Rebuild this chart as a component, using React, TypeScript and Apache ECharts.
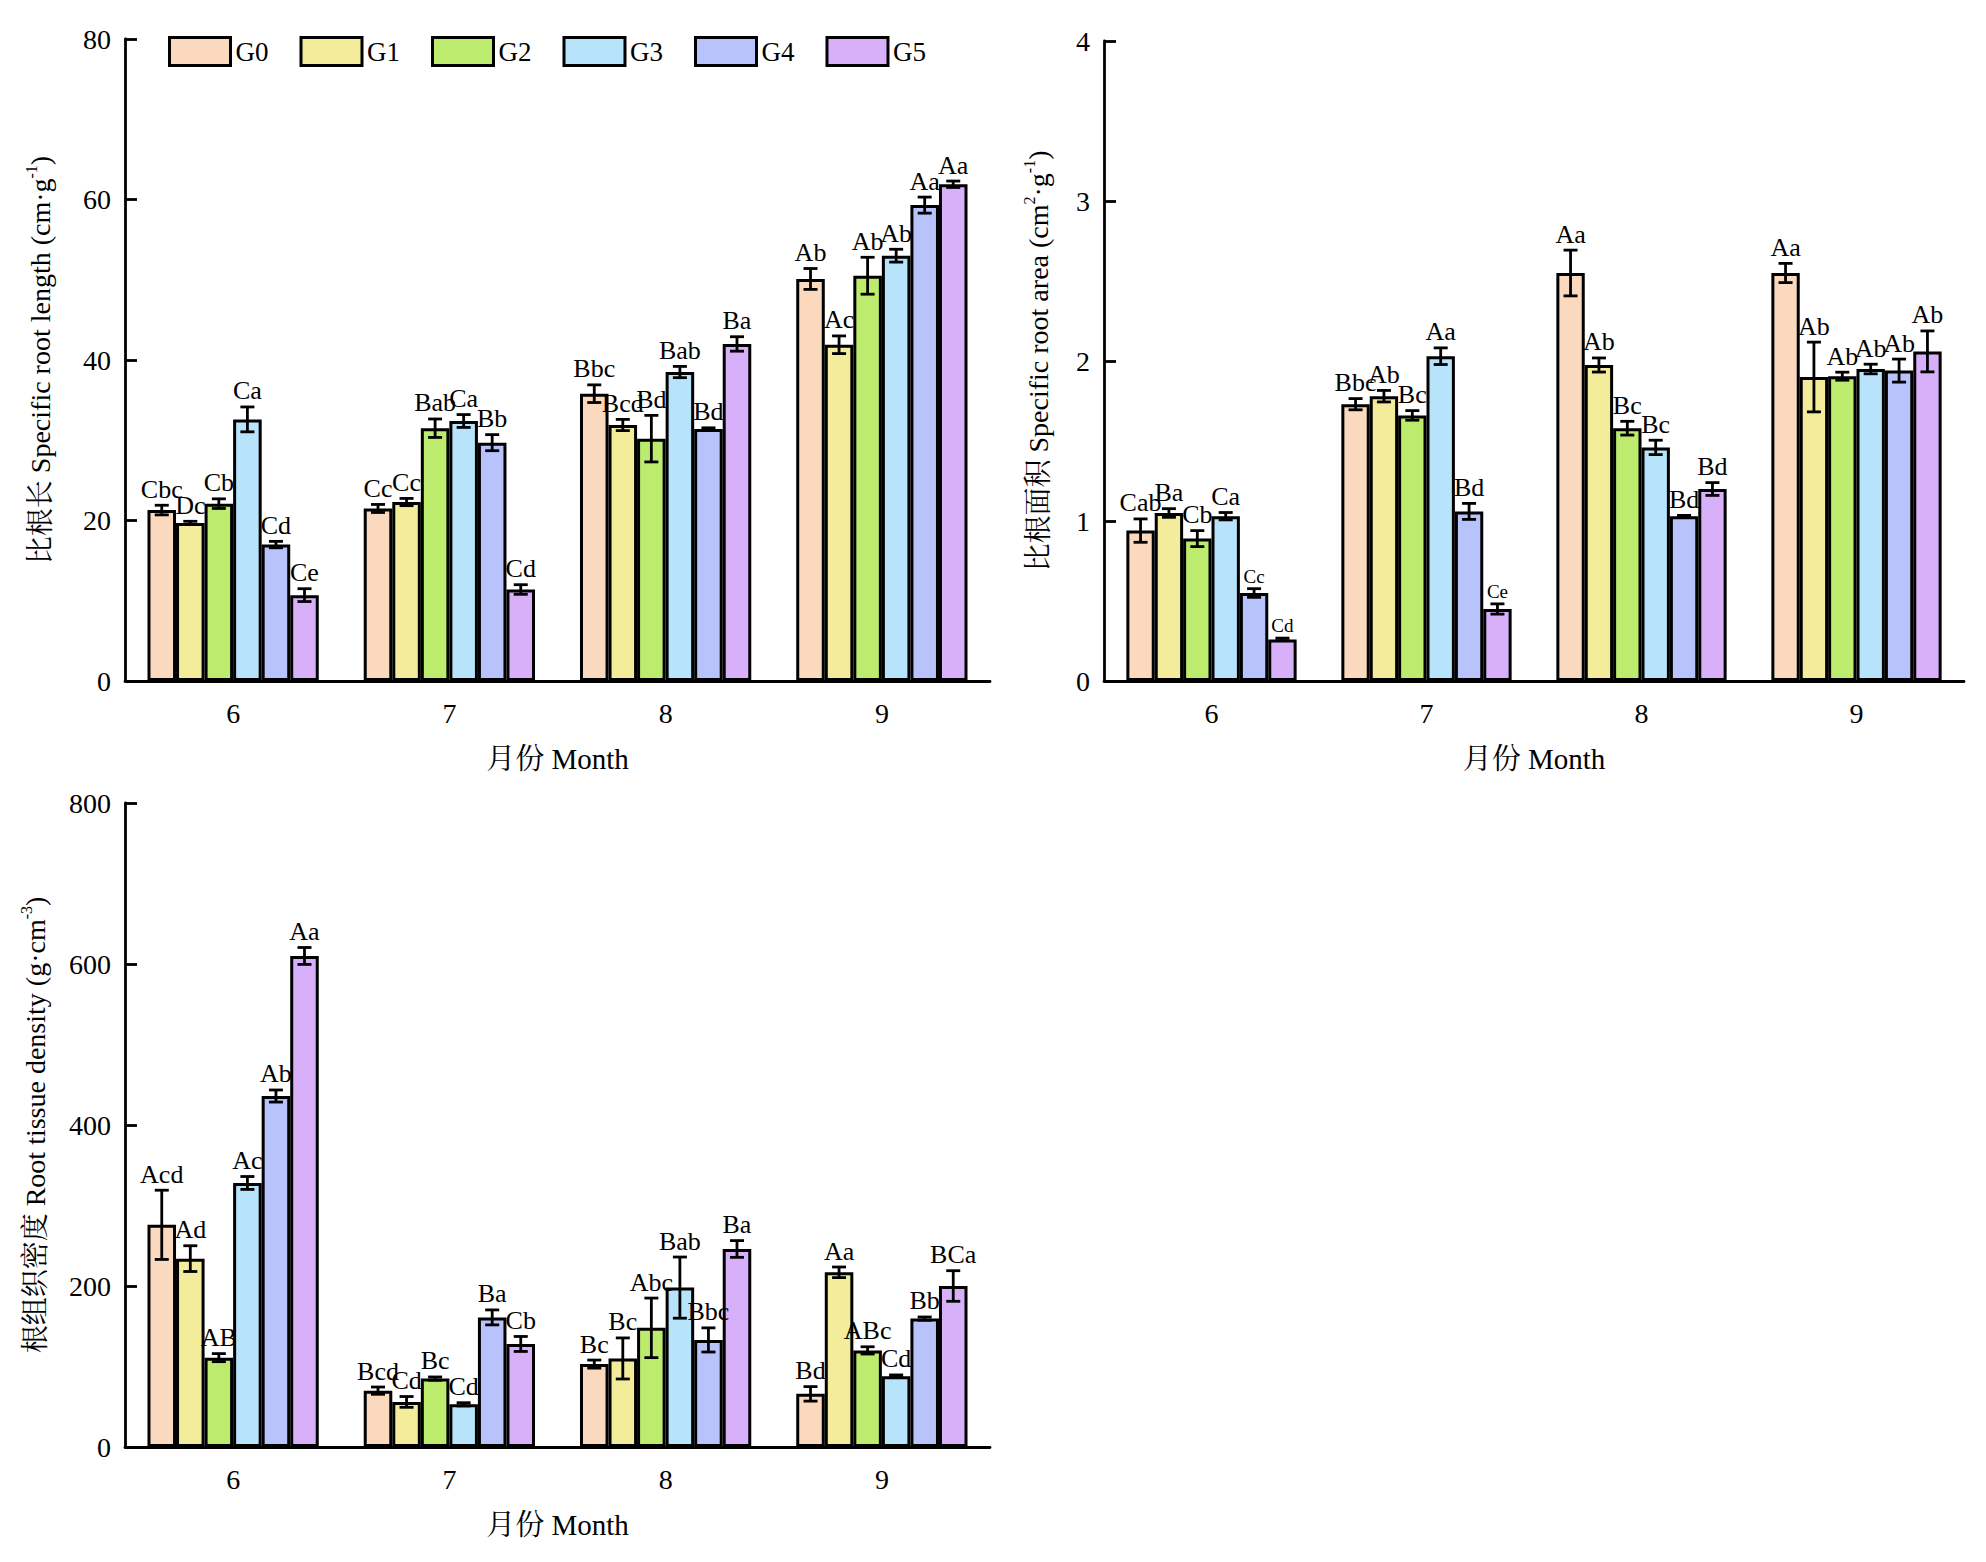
import React, { useEffect, useRef } from "react";
import * as echarts from "echarts";

const months = ["6", "7", "8", "9"];
const groups = ["G0", "G1", "G2", "G3", "G4", "G5"];
const colors = ["#FAD9BE", "#F2EC9B", "#BDEB6E", "#B7E3FB", "#B8C3FB", "#D8B0FA"];

// Specific root length (cm·g-1)
const srlMean = [
  [21.3, 21.5, 35.8, 50.1],
  [19.7, 22.3, 31.9, 41.9],
  [22.1, 31.5, 30.2, 50.5],
  [32.6, 32.4, 38.5, 53.0],
  [17.0, 29.7, 31.4, 59.3],
  [10.7, 11.4, 42.0, 61.9],
];
const srlErr = [
  [0.6, 0.5, 1.1, 1.3],
  [0.2, 0.45, 0.7, 1.1],
  [0.6, 1.15, 2.9, 2.3],
  [1.55, 0.8, 0.7, 0.8],
  [0.4, 1.0, 0.15, 1.0],
  [0.8, 0.6, 0.9, 0.4],
];
const srlLetters = [
  ["Cbc", "Cc", "Bbc", "Ab"],
  ["Dc", "Cc", "Bcd", "Ac"],
  ["Cb", "Bab", "Bd", "Ab"],
  ["Ca", "Ca", "Bab", "Ab"],
  ["Cd", "Bb", "Bd", "Aa"],
  ["Ce", "Cd", "Ba", "Aa"],
];

// Specific root area (cm2·g-1)
const sraMean = [
  [0.94, 1.73, 2.55, 2.55],
  [1.05, 1.78, 1.975, 1.9],
  [0.89, 1.66, 1.58, 1.905],
  [1.03, 2.03, 1.46, 1.95],
  [0.55, 1.06, 1.03, 1.94],
  [0.26, 0.45, 1.2, 2.06],
];
const sraErr = [
  [0.073, 0.035, 0.143, 0.06],
  [0.027, 0.036, 0.044, 0.218],
  [0.05, 0.03, 0.043, 0.025],
  [0.023, 0.052, 0.045, 0.03],
  [0.027, 0.05, 0.005, 0.072],
  [0.008, 0.032, 0.04, 0.128],
];
const sraLetters = [
  ["Cab", "Bbc", "Aa", "Aa"],
  ["Ba", "Ab", "Ab", "Ab"],
  ["Cb", "Bc", "Bc", "Ab"],
  ["Ca", "Aa", "Bc", "Ab"],
  ["Cc", "Bd", "Bd", "Ab"],
  ["Cd", "Ce", "Bd", "Ab"],
];
// [group, month] of letters printed in a smaller type
const sraSmallLetters = [
  [4, 0],
  [5, 0],
  [5, 1],
];

// Root tissue density (g·cm-3)
const rtdMean = [
  [276, 70, 103, 66],
  [234, 56, 110, 217],
  [111, 85, 148, 120],
  [328, 53, 198, 88],
  [436, 161, 133, 159.5],
  [610, 128, 246, 200],
];
const rtdErr = [
  [43, 4.5, 5, 9],
  [16, 6.7, 25.5, 6.6],
  [5, 2, 37, 4.5],
  [8, 2, 38, 1.5],
  [7.5, 9.3, 15, 2],
  [10.5, 9.3, 10.4, 19],
];
const rtdLetters = [
  ["Acd", "Bcd", "Bc", "Bd"],
  ["Ad", "Cd", "Bc", "Aa"],
  ["AB", "Bc", "Abc", "ABc"],
  ["Ac", "Cd", "Bab", "Cd"],
  ["Ab", "Ba", "Bbc", "Bb"],
  ["Aa", "Cb", "Ba", "BCa"],
];

const FONT = 'Liberation Serif, "Times New Roman", "Noto Serif CJK SC", "Noto Sans CJK SC", serif';
const BAR_FRAC = 0.132;

function buildErrorSeries(
  axisIndex: number,
  means: number[][],
  errs: number[][],
  letters: string[][],
  small: number[][]
) {
  const data: number[][] = [];
  const meta: { text: string; small: boolean }[] = [];
  means.forEach((row, g) => {
    row.forEach((m, c) => {
      data.push([c, m, errs[g][c], g]);
      meta.push({
        text: letters[g][c],
        small: small.some((s) => s[0] === g && s[1] === c),
      });
    });
  });
  return {
    type: "custom",
    xAxisIndex: axisIndex,
    yAxisIndex: axisIndex,
    z: 5,
    silent: true,
    encode: { x: 0, y: 1 },
    data,
    renderItem: (params: any, api: any) => {
      const c = api.value(0);
      const m = api.value(1);
      const e = api.value(2);
      const g = api.value(3);
      const band = api.size([1, 0])[0];
      const x = api.coord([c, m])[0] + (g - 2.5) * band * BAR_FRAC;
      const yT = api.coord([c, m + e])[1];
      const yB = api.coord([c, m - e])[1];
      const cap = 7;
      const ls = { stroke: "#000", lineWidth: 2.8 };
      const info = meta[params.dataIndex];
      return {
        type: "group",
        children: [
          { type: "line", shape: { x1: x, y1: yT, x2: x, y2: yB }, style: ls },
          { type: "line", shape: { x1: x - cap, y1: yT, x2: x + cap, y2: yT }, style: ls },
          { type: "line", shape: { x1: x - cap, y1: yB, x2: x + cap, y2: yB }, style: ls },
          {
            type: "text",
            style: {
              text: info.text,
              x,
              y: yT - 3,
              align: "center",
              verticalAlign: "bottom",
              fontSize: info.small ? 19 : 26,
              fontFamily: FONT,
              fill: "#000",
            },
          },
        ],
      };
    },
  };
}

function buildBars(axisIndex: number, means: number[][]) {
  return means.map((row, g) => ({
    type: "bar",
    name: groups[g],
    xAxisIndex: axisIndex,
    yAxisIndex: axisIndex,
    data: row,
    barWidth: (BAR_FRAC * 100).toFixed(1) + "%",
    barGap: "0%",
    itemStyle: { color: colors[g], borderColor: "#000", borderWidth: 3 },
  }));
}

const axisLine = { show: true, onZero: false, lineStyle: { color: "#000", width: 2.8 } };

function xAxis(gridIndex: number) {
  return {
    type: "category",
    gridIndex,
    data: months,
    axisLine,
    axisTick: { show: false },
    axisLabel: { fontSize: 28, fontFamily: FONT, color: "#000", margin: 18 },
    name: "月份 Month",
    nameLocation: "middle",
    nameGap: 63,
    nameTextStyle: { fontSize: 29, fontFamily: FONT, color: "#000" },
  };
}

function yAxis(gridIndex: number, max: number, interval: number, name: string, nameGap: number) {
  return {
    type: "value",
    gridIndex,
    min: 0,
    max,
    interval,
    axisLine,
    axisTick: { show: true, inside: true, length: 12, lineStyle: { color: "#000", width: 2.8 } },
    splitLine: { show: false },
    axisLabel: { fontSize: 28, fontFamily: FONT, color: "#000", margin: 14 },
    name,
    nameLocation: "middle",
    nameGap,
    nameTextStyle: {
      fontSize: 28,
      fontFamily: FONT,
      color: "#000",
      lineHeight: 34,
      rich: {
        sup: { fontSize: 16, fontFamily: FONT, color: "#000", verticalAlign: "top" },
      },
    },
  };
}

export default function App() {
  const ref = useRef<HTMLDivElement>(null);
  useEffect(() => {
    document.body.style.margin = "0";
    if (!ref.current) return;
    const chart = echarts.init(ref.current, undefined, { renderer: "svg" });
    chart.setOption({
      animation: false,
      backgroundColor: "#fff",
      textStyle: { fontFamily: FONT },
      legend: {
        data: groups,
        left: 163,
        top: 31,
        itemWidth: 61,
        itemHeight: 28,
        itemGap: 31,
        icon: "rect",
        itemStyle: { borderColor: "#000", borderWidth: 3 },
        textStyle: { fontSize: 27, fontFamily: FONT, color: "#000" },
      },
      grid: [
        { left: 125, top: 39, width: 865, height: 642 },
        { left: 1104, top: 41, width: 860, height: 640 },
        { left: 125, top: 803, width: 865, height: 644 },
      ],
      xAxis: [xAxis(0), xAxis(1), xAxis(2)],
      yAxis: [
        yAxis(0, 80, 20, "比根长 Specific root length (cm·g{sup|-1})", 68),
        yAxis(1, 4, 1, "比根面积 Specific root area (cm{sup|2}·g{sup|-1})", 49),
        yAxis(2, 800, 200, "根组织密度 Root tissue density (g·cm{sup|-3})", 73),
      ],
      series: [
        ...buildBars(0, srlMean),
        buildErrorSeries(0, srlMean, srlErr, srlLetters, []),
        ...buildBars(1, sraMean),
        buildErrorSeries(1, sraMean, sraErr, sraLetters, sraSmallLetters),
        ...buildBars(2, rtdMean),
        buildErrorSeries(2, rtdMean, rtdErr, rtdLetters, []),
      ],
    });
    return () => chart.dispose();
  }, []);
  return <div ref={ref} style={{ width: 1986, height: 1562 }} />;
}
